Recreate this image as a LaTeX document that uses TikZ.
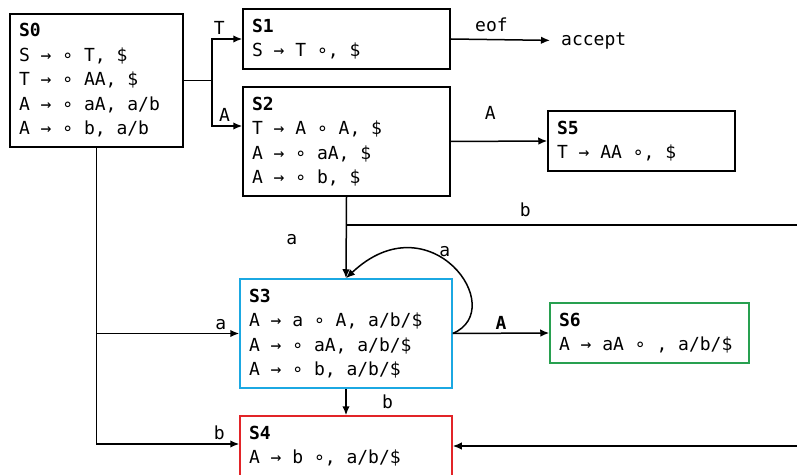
\documentclass[tikz,border=0pt]{standalone}
\usepackage{fontspec}
\newfontfamily\codefont{DejaVu Sans Mono}
\usepackage{tikz}
\usepackage{color}
\usetikzlibrary{arrows.meta}

\definecolor{boxblue}{RGB}{27,168,226}
\definecolor{boxred}{RGB}{226,36,40}
\definecolor{boxgreen}{RGB}{40,160,80}
\newcommand{\itemfont}{\codefont\fontsize{18}{24.5}\selectfont}
\newcommand{\gap}{\hspace*{10.84pt}}

\begin{document}
\begin{tikzpicture}[x=1pt, y=1pt, >={Latex[length=9pt, width=7.5pt]},
        every node/.style={font=\itemfont},
        state/.style={draw, rectangle, line width=1.5pt, align=left, inner xsep=9pt, inner ysep=0pt},
        trans/.style={->, line width=1.5pt}]
        \useasboundingbox (0,0) rectangle (797,474);
        \clip (0,0) rectangle (797,474);
        % states
        \node[state, minimum width=173pt, minimum height=133pt, text width=155pt] (S0) at (96.5,393.5)
            {\textbf{S0}\\S\gap →\gap ∘\gap T,\gap \$\\T\gap →\gap ∘\gap AA,\gap \$\\A\gap →\gap ∘\gap aA,\gap a/b\\A\gap →\gap ∘\gap b,\gap a/b};
        \node[state, minimum width=207pt, minimum height=60pt, text width=189pt] (S1) at (346.5,435)
            {\textbf{S1}\\S\gap →\gap T\gap ∘,\gap \$};
        \node[state, minimum width=207pt, minimum height=109pt, text width=189pt] (S2) at (346.5,332.5)
            {\textbf{S2}\\T\gap →\gap A\gap ∘\gap A,\gap \$\\A\gap →\gap ∘\gap aA,\gap \$\\A\gap →\gap ∘\gap b,\gap \$};
        \node[state, minimum width=187pt, minimum height=60pt, text width=169pt] (S5) at (641.5,333)
            {\textbf{S5}\\T\gap →\gap AA\gap ∘,\gap \$};
        \node[state, draw=boxblue, minimum width=212pt, minimum height=109pt, text width=194pt] (S3) at (346,140.5)
            {\textbf{S3}\\A\gap →\gap a\gap ∘\gap A,\gap a/b/\$\\A\gap →\gap ∘\gap aA,\gap a/b/\$\\A\gap →\gap ∘\gap b,\gap a/b/\$};
        \node[state, draw=boxgreen, minimum width=199pt, minimum height=60pt, text width=181pt] (S6) at (649.5,141)
            {\textbf{S6}\\A\gap →\gap aA\gap ∘\gap ,\gap a/b/\$};
        \node[state, draw=boxred, minimum width=212pt, minimum height=60pt, text width=194pt] (S4) at (346,28)
            {\textbf{S4}\\A\gap →\gap b\gap ∘,\gap a/b/\$};
        \node[anchor=west, inner xsep=11pt] (acc) at (550,433) {accept};

        % transitions
        \coordinate (J0) at (212,393.5);
        \draw[line width=1.5pt] (S0.east) -- (J0);
        \draw[trans] (J0) |- (S1.west) node[pos=0.62, above] {T};
        \draw[trans] (J0) |- ([yshift=15.5pt]S2.west) node[pos=0.8, above left, xshift=4pt] {A};
        \draw[trans] (S1.east) -- (acc) node[pos=0.41, above=4pt] {eof};
        \draw[trans] (S2.east) -- (S5.west) node[pos=0.41, above=18pt] {A};
        \draw[trans] (S2.south) -- (S3.north) node[pos=0.52, left=45pt] {a};
        \coordinate (JB) at (346.5,249);
        \coordinate (RT) at (805,249);
        \draw[trans] (JB) -- (RT) node[pos=0.39, above=4pt] {b} |- (S4.east);
        \draw[trans] (S3.east) .. controls (510,165) and (430,275) .. (S3.north) node[pos=0.55, above] {a};
        \draw[trans] (S3.east) -- (S6.west) node[midway, above] {\textbf{A}};
        \draw[trans] (S0.south) |- ([yshift=2pt]S4.west) node[pos=0.93, above] {b};
        \draw[trans] (S0.south |- S3.west) -- (S3.west) node[pos=0.87, above] {a};
        \draw[trans] (S3.south) -- (S4.north) node[midway, right=32pt] {b};
    \end{tikzpicture}
\end{document}
